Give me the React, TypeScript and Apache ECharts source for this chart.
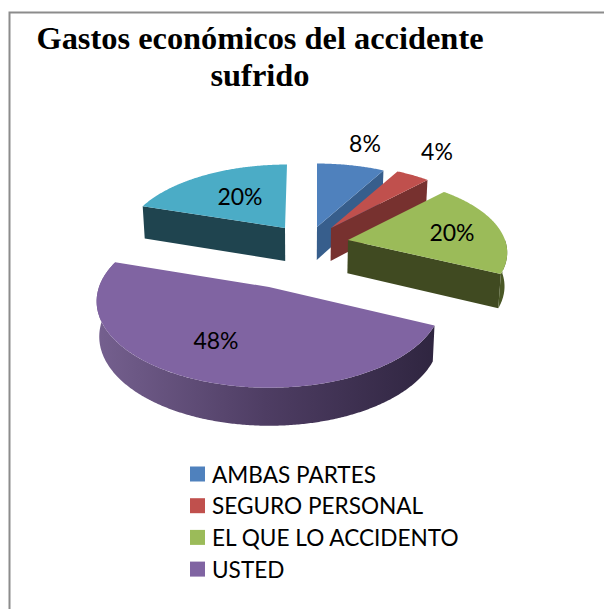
import React, { useEffect, useRef } from "react";
import * as echarts from "echarts";

const titleLines = ["Gastos económicos del accidente", "sufrido"];
const categories = ["AMBAS PARTES", "SEGURO PERSONAL", "EL QUE LO ACCIDENTO", "USTED", "OTROS"];
const legendCategories = ["AMBAS PARTES", "SEGURO PERSONAL", "EL QUE LO ACCIDENTO", "USTED"];
const values = [8, 4, 20, 48, 20];
const faceColors = ["#4F81BD", "#C0504D", "#9BBB59", "#8064A2", "#4BACC6"];
const wallColors = ["#375E8C", "#77312F", "#404A21", "#2F2540", "#1F444F"];

// Where each exploded slice sits on the page: apex, radii, lean of the far edge.
const sliceLayout = [
  { ax: 317, ay: 227, rx: 158, ry: 74, lean: 0 },
  { ax: 331, ay: 228, rx: 158, ry: 74, lean: 0 },
  { ax: 348, ay: 240, rx: 157, ry: 74, lean: 0 },
  { ax: 269, ay: 287, rx: 170, ry: 84, lean: 0 },
  { ax: 285, ay: 228, rx: 158, ry: 74, lean: 2 },
];
const labelLayout = [
  [365, 143],
  [437, 151],
  [452, 232],
  [216, 340],
  [240, 196],
];
const PERSPECTIVE = 0.166;

type P = [number, number];

function project(i: number, thetaDeg: number): P {
  const l = sliceLayout[i];
  const t = (thetaDeg * Math.PI) / 180;
  const u = Math.sin(t);
  const v = Math.cos(t);
  const w = 1 + PERSPECTIVE * v;
  return [l.ax + (l.rx * u) / w + l.lean * v, l.ay - (l.ry * v) / w];
}
function drop(p: P): P {
  const d = 33 + (p[1] - 230) * 0.032;
  return [300 + (p[0] - 300) * 0.987, p[1] + d];
}
function arc(i: number, a: number, b: number): P[] {
  const pts: P[] = [];
  const n = Math.max(2, Math.ceil(Math.abs(b - a) * 2));
  for (let k = 0; k <= n; k++) pts.push(project(i, a + ((b - a) * k) / n));
  return pts;
}
function sliceAngles(i: number): [number, number] {
  const total = values.reduce((s, v) => s + v, 0);
  const before = values.slice(0, i).reduce((s, v) => s + v, 0);
  return [(before / total) * 360, ((before + values[i]) / total) * 360];
}
function poly(points: P[], fill: any) {
  return {
    type: "polygon",
    shape: { points },
    style: { fill, stroke: "none" },
    silent: true,
  };
}

function renderSlice(params: any) {
  const i = params.seriesIndex;
  const [a, b] = sliceAngles(i);
  const apex: P = [sliceLayout[i].ax, sliceLayout[i].ay];
  const apexB = drop(apex);
  const children: any[] = [];
  const pa = project(i, a);
  const pb = project(i, b);
  if (b <= 180) {
    children.push(poly([apex, pb, drop(pb), apexB], wallColors[i]));
  } else if (a >= 180) {
    children.push(poly([apex, pa, drop(pa), apexB], wallColors[i]));
  }
  const ra = Math.max(a, 90);
  const rb = Math.min(b, 270);
  if (rb > ra) {
    const top = arc(i, ra, rb);
    const bottom = top.map(drop).reverse();
    const fill =
      i === 3
        ? new echarts.graphic.LinearGradient(
            0,
            0,
            1,
            0,
            [
              { offset: 0, color: "#75608F" },
              { offset: 0.5, color: "#4E3D63" },
              { offset: 1, color: "#2F2540" },
            ],
            false
          )
        : "#4A5826";
    children.push(poly([...top, ...bottom], fill));
  }
  if (i === 3 && b > 270) {
    const top = arc(i, 270, b);
    children.push(poly([...top, ...top.map(drop).reverse()], "#75608F"));
  }
  children.push(poly([apex, ...arc(i, a, b)], faceColors[i]));
  children.push({
    type: "text",
    silent: true,
    style: {
      x: labelLayout[i][0],
      y: labelLayout[i][1],
      text: values[i] + "%",
      fill: "#000000",
      font: "23px Lato",
      align: "center",
      verticalAlign: "middle",
    },
  });
  return { type: "group", children };
}

export default function App() {
  const ref = useRef<HTMLDivElement>(null);
  useEffect(() => {
    const chart = echarts.init(ref.current!, undefined, { renderer: "svg" });
    chart.setOption({
      animation: false,
      backgroundColor: "#FFFFFF",
      title: {
        text: titleLines.join("\n"),
        left: 255,
        top: 14.5,
        textAlign: "center",
        textStyle: {
          fontFamily: "Liberation Serif",
          fontWeight: "bold",
          fontSize: 32.4,
          lineHeight: 37,
          color: "#000000",
        },
      },
      legend: {
        data: legendCategories.map((name) => ({ name, icon: "rect" })),
        orient: "vertical",
        left: 185,
        top: 457,
        itemWidth: 15,
        itemHeight: 15,
        itemGap: 7.7,
        textStyle: {
          fontFamily: "Lato",
          fontSize: 22.6,
          lineHeight: 24,
          color: "#000000",
          padding: [0, 0, 0, 2],
        },
        selectedMode: false,
      },
      graphic: [
        {
          type: "polyline",
          silent: true,
          z: 10,
          shape: { points: [[9.5, 609], [9.5, 12.5], [604, 12.5]] },
          style: { stroke: "#8C8C8C", lineWidth: 2, fill: "none" },
        },
      ],
      series: categories.map((name, i) => ({
        type: "custom",
        name,
        coordinateSystem: "none",
        renderItem: renderSlice,
        data: [[values[i]]],
        itemStyle: { color: faceColors[i] },
        silent: true,
      })),
    });
    return () => chart.dispose();
  }, []);
  return (
    <div
      ref={ref}
      style={{
        position: "absolute",
        left: 0,
        top: 0,
        width: 604,
        height: 609,
      }}
    />
  );
}
